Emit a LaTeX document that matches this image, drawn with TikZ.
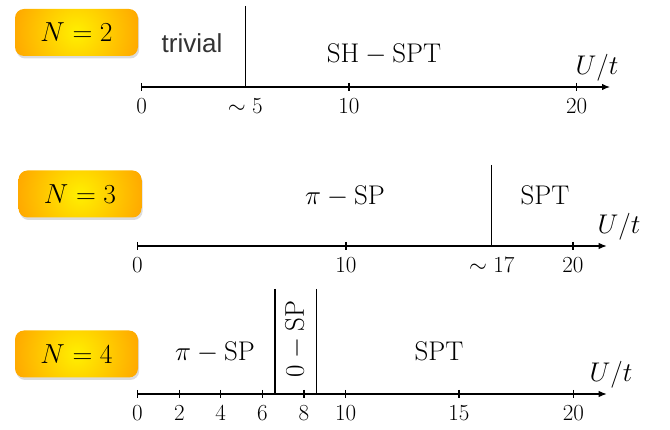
\RequirePackage{fix-cm}
\documentclass[tikz,border=0pt]{standalone}
\usepackage{fontspec}
\newfontfamily\helv{Liberation Sans}
\usetikzlibrary{arrows.meta,shadows}
\definecolor{boxin}{RGB}{255,240,0}
\definecolor{boxout}{RGB}{255,150,0}
\begin{document}
\begin{tikzpicture}[x=1pt,y=-1pt,
  nbox/.style={rounded corners=9pt, minimum width=123pt, minimum height=47pt,
    path picture={\shade[inner color=boxin, outer color=boxout]
      (path picture bounding box.center) circle (80pt);},
    drop shadow={shadow xshift=1.2pt, shadow yshift=-2.5pt, opacity=0.28},
    font=\fontsize{27.5}{30}\selectfont},
  axisline/.style={line width=1.2pt, -{Latex[length=8pt,width=6.5pt]}},
  tickmark/.style={line width=1.1pt},
  divider/.style={line width=1.3pt},
  ticklab/.style={anchor=base, inner sep=0pt, font=\fontsize{23}{26}\selectfont},
  phase/.style={anchor=base, inner sep=0pt, font=\fontsize{27}{30}\selectfont},
  axlab/.style={anchor=base, inner sep=0pt, font=\fontsize{27}{30}\selectfont},
]
\useasboundingbox (0,0) rectangle (670,430);

% ---------- N = 2 ----------
\node[nbox] (n2) at (76.5,32.5) {$N=2$};
\coordinate (a1s) at (141.7,87);
\coordinate (a1e) at (610,87);
\draw[axisline] (a1s) -- (a1e);
\foreach \x/\l [count=\i] in {141.7/0, 349/10, 576.7/20}{
  \coordinate (t1-\i) at (\x,87);
  \draw[tickmark] ([yshift=4pt]t1-\i) -- ([yshift=-4pt]t1-\i);
  \node[ticklab] (l1-\i) at (\x,114) {$\l$};
}
\coordinate (d1t) at (245.3,6);
\coordinate (d1b) at (245.3,87);
\draw[divider] (d1t) -- (d1b);
\node[ticklab] (l1-5) at (245.3,114) {$\sim 5$};
\node[phase, font=\helv\fontsize{26}{30}\selectfont, text=black!80] (p1a) at (192,53) {trivial};
\node[phase] (p1b) at (384,63) {$\mathrm{SH}-\mathrm{SPT}$};
\node[axlab] (u1) at (597,75) {$U/t$};

% ---------- N = 3 ----------
\node[nbox] (n3) at (80,194) {$N=3$};
\coordinate (a2s) at (137.3,246);
\coordinate (a2e) at (606.7,246);
\draw[axisline] (a2s) -- (a2e);
\foreach \x/\l [count=\i] in {137.3/0, 346/10, 573/20}{
  \coordinate (t2-\i) at (\x,246);
  \draw[tickmark] ([yshift=4pt]t2-\i) -- ([yshift=-4pt]t2-\i);
  \node[ticklab] (l2-\i) at (\x,273) {$\l$};
}
\coordinate (d2t) at (491.7,165);
\coordinate (d2b) at (491.7,246);
\draw[divider] (d2t) -- (d2b);
\node[ticklab] (l2-17) at (491.7,273) {$\sim 17$};
\node[phase] (p2a) at (345,205) {$\pi-\mathrm{SP}$};
\node[phase] (p2b) at (545,205) {$\mathrm{SPT}$};
\node[axlab] (u2) at (619,234) {$U/t$};

% ---------- N = 4 ----------
\node[nbox] (n4) at (76.5,354) {$N=4$};
\coordinate (a3s) at (137.3,394);
\coordinate (a3e) at (606.7,394);
\draw[axisline] (a3s) -- (a3e);
\foreach \x/\l [count=\i] in {137.3/0, 179.3/2, 220.7/4, 262.3/6, 304/8, 345.7/10, 459/15, 573.3/20}{
  \coordinate (t3-\i) at (\x,394);
  \draw[tickmark] ([yshift=4pt]t3-\i) -- ([yshift=-4pt]t3-\i);
  \node[ticklab] (l3-\i) at (\x,421) {$\l$};
}
\coordinate (d3at) at (275,289);
\coordinate (d3ab) at (275,394);
\coordinate (d3bt) at (316.5,289);
\coordinate (d3bb) at (316.5,394);
\draw[divider] (d3at) -- (d3ab);
\draw[divider] (d3bt) -- (d3bb);
\node[phase] (p3a) at (215,361) {$\pi-\mathrm{SP}$};
\node[phase, anchor=center, rotate=90] (p3b) at (295.5,339) {$0-\mathrm{SP}$};
\node[phase] (p3c) at (439,361) {$\mathrm{SPT}$};
\node[axlab] (u3) at (611,382) {$U/t$};
\end{tikzpicture}
\end{document}
